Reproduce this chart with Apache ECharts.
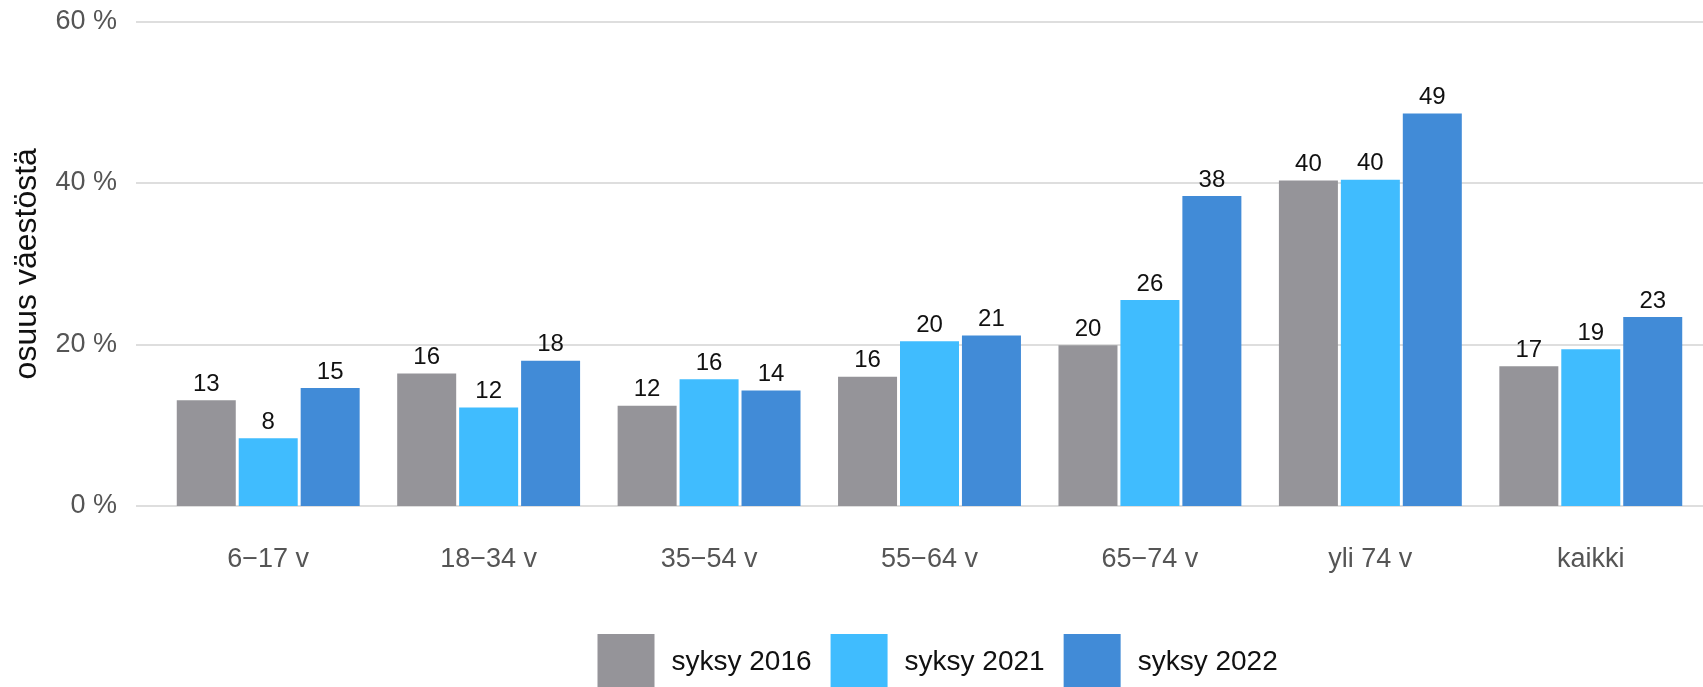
<!DOCTYPE html>
<html>
<head>
<meta charset="utf-8">
<script src="https://cdn.jsdelivr.net/npm/echarts@6/dist/echarts.min.js"></script>
<style>
html,body{margin:0;padding:0;background:#fff;}
#chart{width:1703px;height:687px;}
</style>
</head>
<body>
<div id="chart"></div>
<script>
const categories = ['6\u221217 v', '18\u221234 v', '35\u221254 v', '55\u221264 v', '65\u221274 v', 'yli 74 v', 'kaikki'];
const seriesNames = ['syksy 2016', 'syksy 2021', 'syksy 2022'];
const values2016 = [13.1, 16.4, 12.4, 16.0, 19.9, 40.3, 17.3];
const values2021 = [8.4, 12.2, 15.7, 20.4, 25.5, 40.4, 19.4];
const values2022 = [14.6, 18.0, 14.3, 21.1, 38.4, 48.6, 23.4];
const yTicks = [0, 20, 40, 60];
const colors = ['#959499', '#40bcfe', '#418bd7'];

const chart = echarts.init(document.getElementById('chart'), null, {renderer: 'canvas'});
const font = 'Liberation Sans, Arial, sans-serif';
const gridTop = 21.5, gridBottom = 181;

function barSeries(name, data, color) {
  return {
    name: name,
    type: 'bar',
    xAxisIndex: 1,
    yAxisIndex: 1,
    data: data,
    barWidth: 59,
    barGap: '5%',
    itemStyle: {color: color},
    label: {
      show: true,
      position: 'top',
      distance: 4,
      fontFamily: font,
      fontSize: 24,
      color: '#111',
      formatter: p => Math.round(p.value)
    }
  };
}

chart.setOption({
  animation: false,
  backgroundColor: '#fff',
  grid: [
    {left: 136, right: 0, top: gridTop, bottom: gridBottom},
    {left: 158, right: 2, top: gridTop, bottom: gridBottom}
  ],
  legend: {
    left: 597.5,
    top: 634,
    padding: 0,
    itemWidth: 57,
    itemHeight: 57,
    itemGap: 19,
    icon: 'rect',
    data: seriesNames,
    textStyle: {
      fontFamily: font,
      fontSize: 28,
      color: '#111',
      padding: [0, 0, 0, 12]
    }
  },
  xAxis: [
    {gridIndex: 0, type: 'category', data: categories, show: false},
    {
      gridIndex: 1, type: 'category', data: categories,
      axisLine: {show: false}, axisTick: {show: false},
      axisLabel: {margin: 40, fontFamily: font, fontSize: 27, color: '#555', lineHeight: 27}
    }
  ],
  yAxis: [
    {
      gridIndex: 0, type: 'value', min: yTicks[0], max: yTicks[yTicks.length - 1], interval: 20,
      name: 'osuus väestöstä', nameLocation: 'middle', nameGap: 93,
      nameTextStyle: {fontFamily: font, fontSize: 32, color: '#111'},
      axisLine: {show: false}, axisTick: {show: false},
      axisLabel: {margin: 19, fontFamily: font, fontSize: 27, color: '#555', formatter: v => v + ' %'},
      splitLine: {show: true, lineStyle: {color: '#dedede', width: 2}}
    },
    {
      gridIndex: 1, type: 'value', min: yTicks[0], max: yTicks[yTicks.length - 1], interval: 20,
      show: false, splitLine: {show: false}
    }
  ],
  series: [
    barSeries(seriesNames[0], values2016, colors[0]),
    barSeries(seriesNames[1], values2021, colors[1]),
    barSeries(seriesNames[2], values2022, colors[2])
  ]
});
</script>
</body>
</html>
